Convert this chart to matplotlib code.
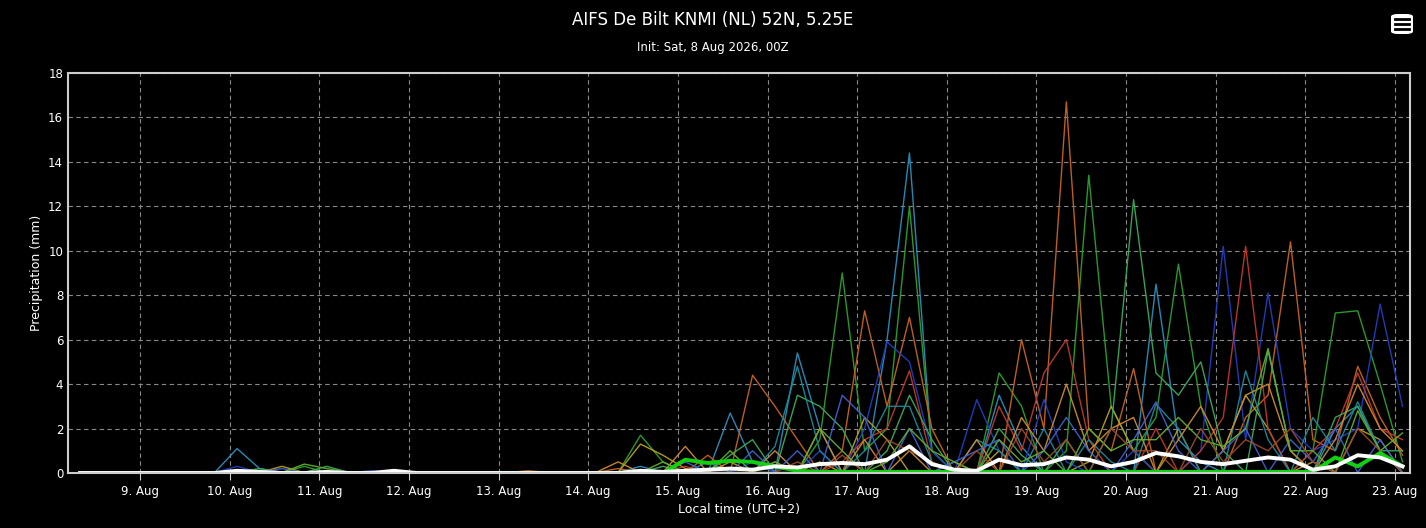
import matplotlib
matplotlib.use("Agg")
import matplotlib.pyplot as plt
import matplotlib.dates as mdates
import numpy as np
from datetime import datetime, timedelta

N = 60
start = datetime(2026, 8, 8, 8)
times = [start + timedelta(hours=6 * i) for i in range(N)]

# ensemble members: sparse {step index: precipitation mm}
members = [
    ("#2a8fbf", {7: 1.1, 8: 0.2, 25: 0.3, 29: 2.7, 30: 0.5, 32: 5.4, 33: 2.0, 36: 6.0, 37: 14.4, 38: 1.0, 41: 3.5, 42: 1.2, 48: 8.5, 49: 1.5, 50: 0.5, 56: 2.0, 57: 3.0, 58: 1.0}),
    ("#2ca02c", {10: 0.3, 25: 1.7, 26: 0.5, 33: 1.5, 34: 9.0, 35: 1.0, 36: 2.0, 37: 12.0, 38: 1.0, 41: 4.5, 42: 3.0, 44: 1.0, 45: 13.4, 46: 3.0, 47: 1.0, 48: 2.5, 49: 9.4, 50: 3.0, 55: 1.0, 56: 7.2, 57: 7.3, 58: 4.0, 59: 0.5}),
    ("#c8641e", {20: 0.1, 24: 0.2, 28: 0.8, 30: 4.4, 31: 3.0, 32: 1.5, 34: 1.0, 35: 7.3, 36: 3.0, 37: 7.0, 38: 2.0, 42: 6.0, 43: 2.0, 44: 16.7, 45: 2.0, 46: 1.0, 47: 4.7, 52: 2.5, 53: 3.5, 54: 10.4, 55: 1.5, 56: 1.0, 57: 4.8, 58: 2.5, 59: 0.8}),
    ("#b8a020", {9: 0.3, 25: 1.3, 26: 0.8, 27: 0.2, 33: 0.5, 35: 2.5, 36: 1.5, 39: 0.5, 41: 1.0, 45: 0.5, 46: 3.0, 47: 1.0, 49: 2.0, 51: 1.0, 52: 3.5, 53: 2.0, 55: 0.5, 57: 2.0, 58: 1.5}),
    ("#1f3fbf", {7: 0.3, 30: 0.5, 33: 1.0, 35: 2.0, 36: 5.9, 37: 5.0, 38: 1.0, 40: 3.3, 41: 1.0, 43: 3.3, 44: 0.5, 47: 1.0, 50: 1.0, 51: 10.2, 52: 1.5, 53: 8.1, 54: 2.0, 55: 1.0, 56: 1.5, 57: 2.0, 58: 7.6, 59: 3.0}),
    ("#c0392b", {27: 0.3, 31: 0.5, 34: 0.5, 35: 1.5, 36: 2.0, 37: 4.6, 38: 0.5, 41: 3.0, 42: 1.0, 43: 4.5, 44: 6.0, 45: 1.5, 48: 2.0, 50: 1.0, 51: 2.5, 52: 10.2, 53: 2.0, 55: 1.0, 56: 2.0, 57: 4.5, 58: 2.0, 59: 1.5}),
    ("#3aaa5a", {8: 0.2, 11: 0.3, 26: 0.3, 29: 0.8, 30: 1.5, 32: 3.5, 33: 3.0, 34: 2.0, 36: 1.0, 37: 3.5, 38: 1.5, 41: 2.0, 42: 0.8, 44: 1.5, 46: 2.0, 47: 12.3, 48: 4.5, 49: 3.5, 50: 5.0, 51: 1.0, 53: 5.5, 54: 1.0, 56: 2.5, 57: 3.0, 58: 1.0, 59: 1.0}),
    ("#1a8a9a", {28: 0.5, 31: 1.2, 32: 4.8, 33: 1.0, 35: 1.0, 36: 3.0, 37: 3.0, 38: 0.5, 40: 1.5, 41: 1.0, 43: 2.0, 45: 1.5, 46: 0.5, 48: 3.1, 49: 2.0, 52: 4.6, 53: 1.5, 55: 2.5, 56: 1.0, 57: 3.2, 58: 1.0}),
    ("#d08a30", {24: 0.5, 27: 1.2, 29: 0.5, 31: 1.0, 33: 2.0, 35: 1.5, 37: 1.0, 40: 1.5, 42: 2.5, 43: 1.0, 44: 4.0, 45: 1.0, 46: 2.0, 47: 2.5, 49: 1.5, 50: 3.0, 51: 1.0, 52: 3.5, 53: 4.0, 54: 1.0, 56: 1.5, 57: 4.0, 58: 2.0, 59: 1.0}),
    ("#4060d0", {9: 0.2, 13: 0.1, 27: 0.5, 30: 1.0, 32: 1.0, 34: 3.5, 35: 2.5, 37: 2.0, 39: 0.5, 40: 1.0, 41: 1.5, 43: 1.0, 44: 2.5, 45: 1.0, 47: 1.5, 48: 3.2, 49: 1.0, 51: 1.0, 52: 2.0, 54: 1.5, 55: 0.5, 56: 2.0, 58: 1.5}),
    ("#60b030", {10: 0.4, 11: 0.2, 26: 0.5, 29: 1.0, 31: 0.5, 33: 2.0, 34: 1.0, 36: 0.5, 37: 2.0, 38: 1.0, 39: 0.5, 41: 1.5, 42: 0.5, 43: 1.0, 45: 2.0, 46: 1.0, 47: 1.5, 48: 1.5, 49: 2.5, 50: 1.5, 51: 1.2, 52: 2.0, 53: 5.6, 54: 1.0, 55: 1.0, 57: 2.8, 58: 1.0, 59: 1.8}),
    ("#9a4a2a", {32: 0.5, 34: 0.8, 36: 1.5, 37: 1.0, 38: 0.5, 40: 1.0, 42: 2.0, 43: 0.5, 44: 1.5, 46: 2.0, 47: 1.0, 48: 1.0, 50: 2.0, 51: 0.5, 52: 1.5, 53: 1.0, 54: 2.0, 55: 0.5, 57: 2.0, 58: 1.0}),
]

ens_mean = [0, 0, 0, 0, 0, 0, 0, 0.1, 0.05, 0, 0, 0.05, 0, 0, 0.1, 0, 0, 0, 0, 0,
            0, 0, 0, 0, 0, 0.1, 0.05, 0.1, 0.15, 0.2, 0.15, 0.3, 0.25, 0.4, 0.45, 0.4, 0.6, 1.2, 0.4, 0.15,
            0.1, 0.6, 0.35, 0.4, 0.7, 0.6, 0.3, 0.5, 0.9, 0.75, 0.5, 0.4, 0.55, 0.7, 0.6, 0.15, 0.3, 0.8, 0.7, 0.3]
control = [0] * 27 + [0.6, 0.45, 0.55, 0.5, 0.3, 0.1, 0.05, 0.05, 0.05, 0.05, 0.05, 0.05, 0.05,
                     0.05, 0.05, 0.05, 0.05, 0.05, 0.05, 0.05, 0.05, 0.05, 0.05, 0.05, 0.05, 0.05, 0.05, 0.05,
                     0.05, 0.7, 0.3, 0.9, 0.3]
title = "AIFS De Bilt KNMI (NL) 52N, 5.25E"
subtitle = "Init: Sat, 8 Aug 2026, 00Z"

fig = plt.figure(figsize=(14.26, 5.28), dpi=100, facecolor="black")
ax = fig.add_axes([68 / 1426, 1 - 473 / 528, (1410 - 68) / 1426, 400 / 528])
ax.set_facecolor("black")
for col, d in members:
    vals = [d.get(i, 0.02) for i in range(N)]
    ax.plot(times, vals, color=col, lw=1.0, alpha=0.95)
ax.plot(times, control, color="#10d010", lw=2.8)
ax.plot(times, ens_mean, color="white", lw=2.8)

ax.set_ylim(0, 18)
ax.set_yticks(range(0, 19, 2))
ax.set_xlim(datetime(2026, 8, 8, 4, 44), datetime(2026, 8, 23, 4, 0))
ax.xaxis.set_major_locator(mdates.DayLocator())
ax.xaxis.set_major_formatter(mdates.DateFormatter("%-d. %b"))
ax.grid(True, color="#888888", ls=(0, (4, 3)), lw=0.8)
ax.tick_params(colors="white", labelsize=8.5, length=0)
ax.tick_params(axis="x", length=5, color="#cccccc")
for s in ax.spines.values():
    s.set_color("#cccccc")
    s.set_linewidth(1.5)
ax.set_ylabel("Precipitation (mm)", color="white", fontsize=9)
ax.set_xlabel("Local time (UTC+2)", color="white", fontsize=9)
fig.text(0.5, 1 - 20 / 528, title, color="white", fontsize=12, ha="center", va="center")
fig.text(0.5, 1 - 47 / 528, subtitle, color="white", fontsize=8.5, ha="center", va="center")
# menu icon
fig.patches.append(matplotlib.patches.FancyBboxPatch((1391 / 1426, 1 - 34 / 528), 22 / 1426, 20 / 528,
                   boxstyle="round,pad=0,rounding_size=0.005", transform=fig.transFigure,
                   facecolor="white", edgecolor="none"))
for k in range(3):
    y = 1 - (19 + 5 * k) / 528
    fig.add_artist(plt.Line2D([1395 / 1426, 1409 / 1426], [y, y], color="black", lw=2, transform=fig.transFigure))
fig.savefig("out.png", dpi=100, facecolor="black")
